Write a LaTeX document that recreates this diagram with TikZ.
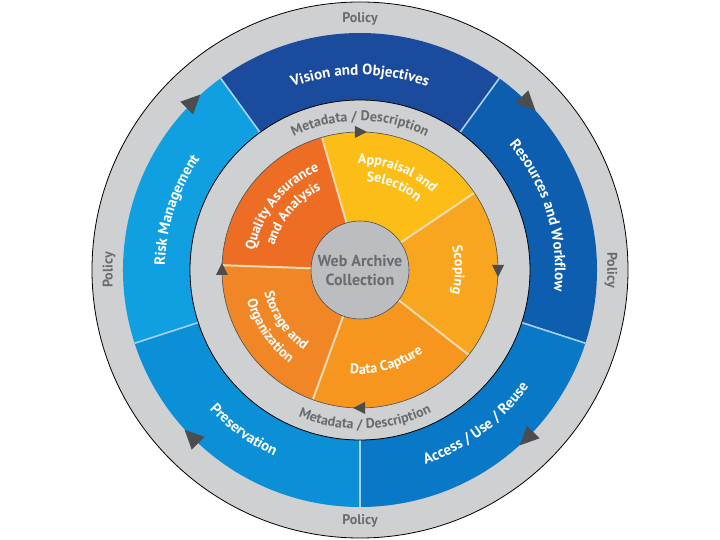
\documentclass[tikz,border=0pt]{standalone}
\usepackage{fontspec}
\setmainfont{PT Sans}
\usetikzlibrary{decorations.text}

\definecolor{ringgray}{HTML}{CFD0D2}
\definecolor{textgray}{HTML}{6A6B6E}
\definecolor{arrowgray}{HTML}{4D4D4F}
\definecolor{hubgray}{HTML}{BCBDC0}
\definecolor{sepblue}{HTML}{A9D2F2}
\definecolor{sepbeige}{HTML}{EAD9B2}
\definecolor{vision}{HTML}{1B4B9C}
\definecolor{resources}{HTML}{0D5EAE}
\definecolor{access}{HTML}{0878C7}
\definecolor{preservation}{HTML}{0B8FD7}
\definecolor{risk}{HTML}{109FE0}
\definecolor{appraisal}{HTML}{FDBD17}
\definecolor{scoping}{HTML}{F8A61F}
\definecolor{capture}{HTML}{F6961F}
\definecolor{storage}{HTML}{F18626}
\definecolor{quality}{HTML}{EE6D24}

\newcommand\bandfont{\fontsize{15}{18}\selectfont\bfseries}
\newcommand\metafont{\fontsize{14}{17}\selectfont\bfseries}
\newcommand\wheelfont{\fontsize{14}{17}\selectfont\bfseries}

\begin{document}
\begin{tikzpicture}[
        policy/.style={font=\fontsize{14}{17}\selectfont\bfseries, text=textgray},
        bandtext/.style={decorate, decoration={text along path,
            text align=center, text color=white, text={|\bandfont|#1}}},
        metatext/.style={decorate, decoration={text along path,
            text align=center, text color=textgray, text={|\metafont|#1}}},
        wheeltext/.style={decorate, decoration={text along path,
            text align=center, text color=white, text={|\wheelfont|#1}}},
        bluesep/.style={draw=sepblue, line width=1.6pt},
        orangesep/.style={draw=sepbeige, line width=2pt}
        ]

        % --- Radii ---
        \def\rout{268pt}
        \def\rband{237pt}
        \def\rmeta{170pt}
        \def\rwheel{138pt}
        \def\rhub{49pt}

        \useasboundingbox (-360pt,-270pt) rectangle (360pt,270pt);

        % --- Outer policy ring ---
        \fill[ringgray] (0,0) circle[radius=\rout];
        \draw[line width=0.8pt] (0,0) circle[radius=\rout];

        % --- Blue band ---
        \fill[vision] (0,0) -- (54:\rband) arc[start angle=54, end angle=126, radius=\rband] -- cycle;
        \fill[risk] (0,0) -- (126:\rband) arc[start angle=126, end angle=198, radius=\rband] -- cycle;
        \fill[preservation] (0,0) -- (198:\rband) arc[start angle=198, end angle=270, radius=\rband] -- cycle;
        \fill[access] (0,0) -- (270:\rband) arc[start angle=270, end angle=342, radius=\rband] -- cycle;
        \fill[resources] (0,0) -- (-18:\rband) arc[start angle=-18, end angle=54, radius=\rband] -- cycle;
        \foreach \a in {54,126,198,270,342}
            \draw[bluesep] (\a:\rmeta) -- (\a:\rband);

        % --- Metadata ring ---
        \fill[ringgray] (0,0) circle[radius=\rmeta];
        \draw[line width=0.8pt] (0,0) circle[radius=\rmeta];

        % --- Orange wheel ---
        \fill[appraisal] (0,0) -- (34:\rwheel) arc[start angle=34, end angle=106, radius=\rwheel] -- cycle;
        \fill[quality] (0,0) -- (106:\rwheel) arc[start angle=106, end angle=178, radius=\rwheel] -- cycle;
        \fill[storage] (0,0) -- (178:\rwheel) arc[start angle=178, end angle=250, radius=\rwheel] -- cycle;
        \fill[capture] (0,0) -- (250:\rwheel) arc[start angle=250, end angle=322, radius=\rwheel] -- cycle;
        \fill[scoping] (0,0) -- (-38:\rwheel) arc[start angle=-38, end angle=34, radius=\rwheel] -- cycle;
        \foreach \a in {34,106,178,250,322}
            \draw[orangesep] (\a:\rhub) -- (\a:\rwheel);
        \draw[arrowgray, line width=0.6pt] (0,0) circle[radius=\rwheel];

        % --- Hub ---
        \node[circle, fill=hubgray, draw=arrowgray, line width=0.6pt,
            minimum size=2*\rhub, inner sep=0pt, align=center,
            font=\fontsize{16}{19}\selectfont\bfseries, text=textgray] (hub) at (0,0)
        {Web Archive\\Collection};

        % --- Clockwise arrows ---
        \foreach \a in {45,135,225,315}
            \fill[arrowgray, rotate=\a] (237pt,-11pt) -- (228pt,8pt) -- (246pt,8pt) -- cycle;
        \foreach \a in {0,90,180,270}
            \fill[arrowgray, rotate=\a] (138pt,-7pt) -- (132pt,5pt) -- (144pt,5pt) -- cycle;

        % --- Policy labels ---
        \node[policy] (policyN) at (90:251pt) {Policy};
        \node[policy] (policyS) at (270:251pt) {Policy};
        \node[policy, rotate=90] (policyW) at (180:251pt) {Policy};
        \node[policy, rotate=-90] (policyE) at (0:251pt) {Policy};

        % --- Band labels ---
        \path[bandtext={Vision and Objectives}] (140:195pt) arc[start angle=140, end angle=40, radius=195pt];
        \path[bandtext={Resources and Workflow}] (72:195pt) arc[start angle=72, end angle=-38, radius=195pt];
        \path[bandtext={Access / Use / Reuse}] (-108:205pt) arc[start angle=-108, end angle=2, radius=205pt];
        \path[bandtext={Preservation}] (184:205pt) arc[start angle=184, end angle=284, radius=205pt];
        \path[bandtext={Risk Management}] (212:195pt) arc[start angle=212, end angle=112, radius=195pt];

        % --- Metadata labels ---
        \path[metatext={Metadata / Description}] (150:149pt) arc[start angle=150, end angle=30, radius=149pt];
        \path[metatext={Metadata / Description}] (212:159pt) arc[start angle=212, end angle=332, radius=159pt];

        % --- Wheel labels ---
        \path[wheeltext={Appraisal and}] (124:106pt) arc[start angle=124, end angle=14, radius=106pt];
        \path[wheeltext={Selection}] (123:89pt) arc[start angle=123, end angle=13, radius=89pt];
        \path[wheeltext={Quality Assurance}] (196:107pt) arc[start angle=196, end angle=86, radius=107pt];
        \path[wheeltext={and Analysis}] (195:89pt) arc[start angle=195, end angle=85, radius=89pt];
        \path[wheeltext={Scoping}] (50:95pt) arc[start angle=50, end angle=-50, radius=95pt];
        \path[wheeltext={Data Capture}] (236:104pt) arc[start angle=236, end angle=336, radius=104pt];
        \path[wheeltext={Storage and}] (164:98pt) arc[start angle=164, end angle=264, radius=98pt];
        \path[wheeltext={Organization}] (164:117pt) arc[start angle=164, end angle=264, radius=117pt];

    \end{tikzpicture}
\end{document}
